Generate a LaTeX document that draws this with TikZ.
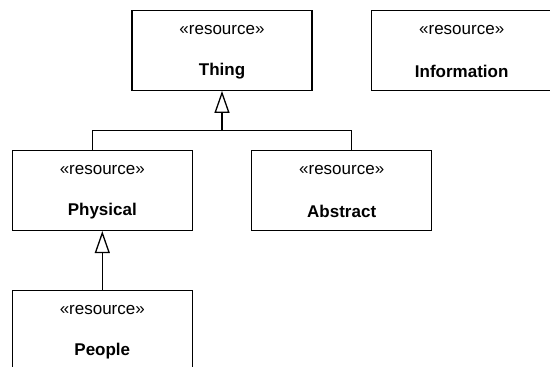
\documentclass[tikz,border=0pt]{standalone}
\usepackage{fontspec}
\setmainfont{Liberation Sans}
\usetikzlibrary{arrows.meta}
\begin{document}
\begin{tikzpicture}[x=1pt,y=-1pt,
  umlbox/.style={draw=black, line width=1.3pt, fill=white, rectangle,
    inner sep=0pt, minimum width=180pt, minimum height=80pt},
  stereo/.style={font=\fontsize{17}{20}\selectfont, inner sep=0pt},
  cname/.style={font=\fontsize{17}{20}\selectfont\bfseries, inner sep=0pt},
  gen/.style={line width=1.3pt,
    -{Triangle[open, length=22pt, width=15pt, line width=1.3pt]}}]
  % canvas
  \path[use as bounding box] (0,0) rectangle (550,367);
  \clip (0,0) rectangle (550,367);

  % classes
  \node[umlbox] (thing) at (222,50.3) {};
  \node[umlbox] (info)  at (461.7,50.7) {};
  \node[umlbox] (phys)  at (102.3,190.4) {};
  \node[umlbox] (abs)   at (341.7,190.5) {};
  \node[umlbox] (people) at (102.3,330.7) {};

  % stereotypes and names
  \foreach \n/\t in {thing/Thing, info/Information, phys/Physical, abs/Abstract, people/People}{
    \node[stereo] (\n-st) at ([yshift=-20pt]\n.north) {«resource»};
    \node[cname]  (\n-nm) at ([yshift=-61.5pt]\n.north) {\t};
  }

  % generalisation connectors
  \coordinate (hub) at (222,130.7);
  \coordinate (physup) at (92.7,130.7);
  \coordinate (absup) at (351.7,130.7);
  \draw[line width=1.3pt] ([xshift=-9.6pt]phys.north) -- (physup) -- (absup) -- ([xshift=10pt]abs.north);
  \draw[gen] (hub) -- (thing.south);
  \draw[gen] (people.north) -- (phys.south);
\end{tikzpicture}
\end{document}
